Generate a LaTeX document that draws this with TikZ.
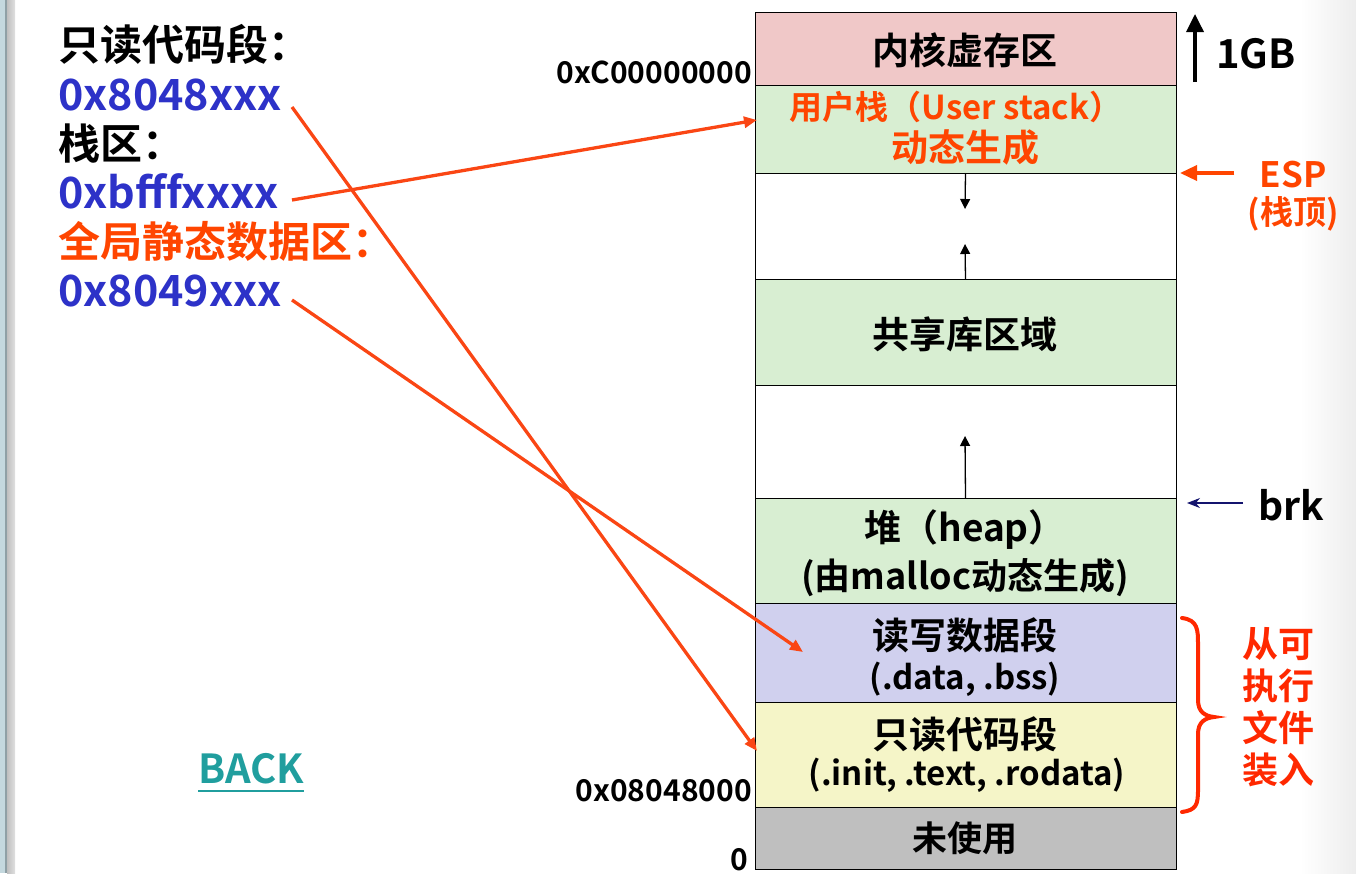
\documentclass[tikz,border=0pt]{standalone}
\usepackage{fontspec}
\setmainfont{Noto Sans CJK SC}[BoldFont={* Bold}]
\usetikzlibrary{arrows.meta}
\definecolor{kern}{RGB}{240,200,200}
\definecolor{grn}{RGB}{216,238,210}
\definecolor{lav}{RGB}{208,208,238}
\definecolor{yel}{RGB}{245,245,200}
\definecolor{gry}{RGB}{191,191,191}
\definecolor{addr}{RGB}{45,50,200}
\definecolor{ora}{RGB}{255,69,0}
\definecolor{arr}{RGB}{250,70,20}
\definecolor{redb}{RGB}{255,40,0}
\definecolor{tealb}{RGB}{32,158,158}
\definecolor{navyb}{RGB}{20,20,110}
\definecolor{edgeblue}{RGB}{196,216,222}
\definecolor{edgedark}{RGB}{143,160,165}
\newcommand{\fs}[1]{\fontsize{#1}{#1}\selectfont}
\begin{document}
\begin{tikzpicture}[x=1pt,y=-1pt,font=\bfseries,
  rowbox/.style={draw=black,line width=0.9pt,minimum width=421pt,anchor=north west,inner sep=0pt,outer sep=0pt},
  lab/.style={inner sep=0pt,anchor=base},
  leftlab/.style={inner sep=0pt,anchor=base west,font=\bfseries\fs{42}},
  addrlab/.style={inner sep=0pt,anchor=base east,font=\bfseries\fs{30}},
  ptr/.style={draw=arr,line width=3.3pt,-{Triangle[length=13pt,width=11pt]}},
  growarrow/.style={draw=black,line width=1.3pt,-{Triangle[length=10pt,width=10pt]}}]
\useasboundingbox (0,0) rectangle (1356,873);
% slide edges
\fill[edgeblue] (0,0) rectangle (5,873);
\fill[edgedark] (5,0) rectangle (7,873);
\shade[left color=black!25,right color=black!12] (7,0) rectangle (15,873);
\shade[left color=white,right color=black!7] (1300,0) rectangle (1356,873);

% memory rows
\node[rowbox,fill=kern,minimum height=73pt] (kern) at (755,12) {};
\node[rowbox,fill=grn,minimum height=88pt] (ustack) at (755,85) {};
\node[rowbox,fill=white,minimum height=106pt] (gap1) at (755,173) {};
\node[rowbox,fill=grn,minimum height=106pt] (shlib) at (755,279) {};
\node[rowbox,fill=white,minimum height=113pt] (gap2) at (755,385) {};
\node[rowbox,fill=grn,minimum height=105pt] (heap) at (755,498) {};
\node[rowbox,fill=lav,minimum height=99pt] (data) at (755,603) {};
\node[rowbox,fill=yel,minimum height=105pt] (text) at (755,702) {};
\node[rowbox,fill=gry,minimum height=62pt] (unused) at (755,807) {};

% row labels
\node[lab,font=\bfseries\fs{37}] (tkern) at (965,64) {内核虚存区};
\node[lab,font=\bfseries\fs{33},text=ora] (tus1) at (956,119) {用户栈（User stack）};
\node[lab,font=\bfseries\fs{37},text=ora] (tus2) at (965,161) {动态生成};
\node[lab,font=\bfseries\fs{37}] (tsh) at (965,348) {共享库区域};
\node[lab,font=\bfseries\fs{37}] (th1) at (965,541) {堆（heap）};
\node[lab,font=\bfseries\fs{36}] (th2) at (965,589) {(由malloc动态生成)};
\node[lab,font=\bfseries\fs{37}] (td1) at (965,649) {读写数据段};
\node[lab,font=\bfseries\fs{33}] (td2) at (965,689) {(.data, .bss)};
\node[lab,font=\bfseries\fs{37}] (tt1) at (965,748) {只读代码段};
\node[lab,font=\bfseries\fs{33}] (tt2) at (967,785) {(.init, .text, .rodata)};
\node[lab,font=\bfseries\fs{35}] (tun) at (965,851) {未使用};

% growth arrows
\coordinate (sdown) at (965,209);
\coordinate (sup2) at (965,244);
\coordinate (hup) at (965,436);
\draw[growarrow] (gap1.north) -- (sdown);
\draw[growarrow] (shlib.north) -- (sup2);
\draw[growarrow] (heap.north) -- (hup);

% addresses
\node[addrlab] (aC) at (752,83) {0xC00000000};
\node[addrlab] (a08) at (752,801) {0x08048000};
\node[addrlab] (a0) at (748,870) {0};

% right side
\coordinate (gbtop) at (1195,14);
\coordinate (gbbot) at (1195,82);
\draw[line width=3.5pt,-{Triangle[length=18pt,width=17pt]}] (gbbot) -- (gbtop);
\node[lab,anchor=base west,font=\bfseries\fs{40}] (gb) at (1216,68) {1GB};
\node[lab,font=\bfseries\fs{35},text=ora] (esp) at (1293,187) {ESP};
\node[lab,font=\bfseries\fs{33},text=ora] (esp2) at (1293,224) {(栈顶)};
\coordinate (esptip) at (1180,173);
\draw[draw=ora,line width=3.5pt,-{Triangle[length=17pt,width=15pt]}] ([xshift=-25pt,yshift=14pt]esp.base west) -- (esptip);
\node[lab,anchor=base west,font=\bfseries\fs{39}] (brk) at (1258,520) {brk};
\coordinate (brktip) at (1187,503);
\draw[draw=navyb,line width=1.5pt,-{Stealth[length=13pt,width=10pt]}] ([xshift=-15pt,yshift=17pt]brk.base west) -- (brktip);
\draw[redb,line width=4pt,line cap=round] (1182,618) .. controls (1198,620) and (1198,630) .. (1198,645) -- (1198,700) .. controls (1198,712) and (1205,716) .. (1214,717) .. controls (1205,718) and (1198,722) .. (1198,734) -- (1198,790) .. controls (1198,805) and (1196,810) .. (1182,812);
\node[inner sep=0pt,align=center,text=redb,font=\bfseries\fs{36}] (load) at (1278,707) {从可\\[6pt]执行\\[6pt]文件\\[6pt]装入};

% left labels
\node[leftlab] (L1) at (58,60) {只读代码段：};
\node[leftlab,text=addr,font=\bfseries\fs{43}] (L2) at (58,110) {0x8048xxx};
\node[leftlab] (L3) at (58,159) {栈区：};
\node[leftlab,text=addr,font=\bfseries\fs{43}] (L4) at (58,208) {0xbfffxxxx};
\node[leftlab,text=ora] (L5) at (58,257) {全局静态数据区：};
\node[leftlab,text=addr,font=\bfseries\fs{43}] (L6) at (58,306) {0x8049xxx};

% pointer arrows
\coordinate (s1) at (292,107);
\coordinate (s2) at (292,200);
\coordinate (s3) at (292,300);
\coordinate (e1) at (757,751);
\coordinate (e2) at (757,120);
\coordinate (e3) at (803,652);
\draw[ptr] (s1) -- (e1);
\draw[ptr] (s2) -- (e2);
\draw[ptr] (s3) -- (e3);

% BACK
\node[lab,anchor=base west,text=tealb,font=\bfseries\fs{40}] (back) at (198,783) {BACK};
\draw[tealb,line width=2.2pt] ([yshift=-8pt]back.base west) -- ([yshift=-8pt]back.base east);
\end{tikzpicture}
\end{document}
